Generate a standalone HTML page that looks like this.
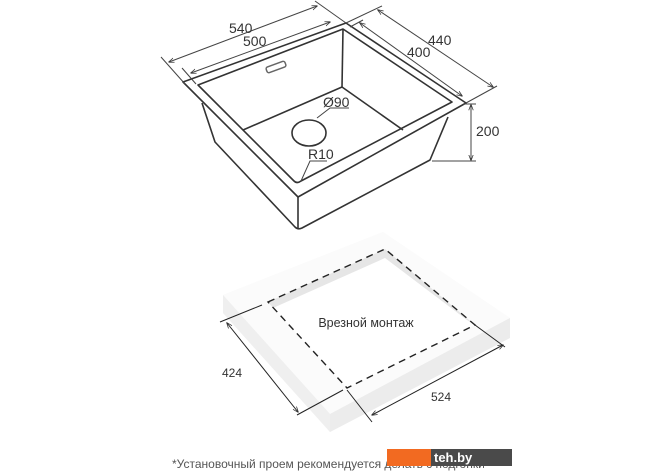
<!DOCTYPE html>
<html><head><meta charset="utf-8"><style>
html,body{margin:0;padding:0;background:#fff;width:670px;height:471px;overflow:hidden}
svg{display:block}
text{font-family:"Liberation Sans",sans-serif;}
</style></head><body>
<svg width="670" height="471" viewBox="0 0 670 471" xmlns="http://www.w3.org/2000/svg">
<defs>
<marker id="a" viewBox="0 0 8 8" refX="7" refY="4" markerWidth="6" markerHeight="6" orient="auto-start-reverse"><path d="M0,1 L8,4 L0,7" fill="none" stroke="#333" stroke-width="1"/></marker>
</defs>
<g fill="none" stroke="#333" stroke-width="1.6" stroke-linejoin="round">
<!-- rim outer -->
<polygon points="183,82 346,23 466,103 298,197"/>
<!-- rim inner -->
<path d="M198,85 L343,29 L452,102 L301,181 Q297,184 294,181 Z"/>
<!-- body -->
<path d="M202,103 L215,142 L295,227 Q298,230 302,228 L430,160 L448,117"/>
<line x1="298" y1="197" x2="298" y2="228"/>
<!-- bowl floor -->
<polyline points="243,130 342,87 403,130"/>
<line x1="343" y1="29" x2="342" y2="87"/>
<ellipse cx="309" cy="133" rx="17" ry="13"/>
</g>
<g fill="none" stroke="#444" stroke-width="1">
<rect x="266" y="64" width="20" height="6" rx="2" transform="rotate(-20 276 67)" stroke="#666" stroke-width="1.5"/>
<!-- 540 -->
<line x1="169" y1="62" x2="317" y2="6" marker-start="url(#a)" marker-end="url(#a)"/><line x1="161" y1="57" x2="185" y2="84"/><line x1="315" y1="1" x2="346" y2="23"/>
<!-- 500 -->
<line x1="191" y1="73" x2="330" y2="22" marker-start="url(#a)" marker-end="url(#a)"/><line x1="182" y1="68" x2="196" y2="84"/>
<!-- 440 -->
<line x1="378" y1="10" x2="493" y2="87" marker-start="url(#a)" marker-end="url(#a)"/><line x1="346" y1="23" x2="382" y2="6"/><line x1="466" y1="103" x2="497" y2="86"/>
<!-- 400 -->
<line x1="360" y1="23" x2="462" y2="96" marker-start="url(#a)" marker-end="url(#a)"/><line x1="350" y1="27" x2="363" y2="20"/>
<!-- 200 -->
<line x1="471" y1="105" x2="471" y2="160" marker-start="url(#a)" marker-end="url(#a)"/><line x1="463" y1="104" x2="476" y2="104"/><line x1="432" y1="161" x2="476" y2="161"/>
<polyline points="317,118 330,108 349,108"/>
<polyline points="301,181 310,161 327,161"/>
</g>
<g font-size="14" fill="#333">
<text x="229" y="33">540</text><text x="243" y="46">500</text>
<text x="428" y="45">440</text><text x="407" y="57">400</text>
<text x="476" y="136">200</text>
<text x="323" y="107">Ø90</text><text x="308" y="159">R10</text>
</g>
<!-- slab -->
<polygon points="223,295 383,232 510,318 510,338 330,432 223,313" fill="#f7f7f7"/>
<polygon points="223,295 383,232 510,318 330,414" fill="#fbfbfb"/>
<polygon points="223,295 330,414 330,432 223,313" fill="#efefef"/>
<polygon points="330,414 510,318 510,338 330,432" fill="#ececec"/>
<polygon points="268,302 385,249 475,325 347,388" fill="#fff"/>
<polygon points="268,302 385,249 475,325 467,320 385,258 273,308" fill="#e6e6e6"/>
<polygon points="268,302 385,249 475,325 347,388" fill="none" stroke="#222" stroke-width="1.4" stroke-dasharray="7,5"/>
<g stroke="#222" stroke-width="1" fill="none">
<line x1="227" y1="323" x2="298" y2="412" marker-start="url(#a)" marker-end="url(#a)"/><line x1="220" y1="322" x2="262" y2="305"/><line x1="297" y1="415" x2="343" y2="390"/>
<line x1="372" y1="415" x2="503" y2="345" marker-start="url(#a)" marker-end="url(#a)"/><line x1="347" y1="390" x2="372" y2="422"/><line x1="475" y1="325" x2="505" y2="347"/>
</g>
<g font-size="12" fill="#333">
<text x="232" y="377" text-anchor="middle">424</text>
<text x="441" y="401" text-anchor="middle">524</text>
<text x="366" y="327" text-anchor="middle" font-size="12.5">Врезной монтаж</text>
<text x="172" y="468" font-size="12" fill="#555">*Установочный проем рекомендуется делать с подгонки</text>
</g>
<rect x="387" y="449" width="44" height="17" fill="#f26a21"/>
<rect x="431" y="449" width="81" height="17" fill="#4a4a4a"/>
<text x="434" y="462" font-size="13" fill="#fff" font-weight="bold">teh.by</text>
</svg>
</body></html>
